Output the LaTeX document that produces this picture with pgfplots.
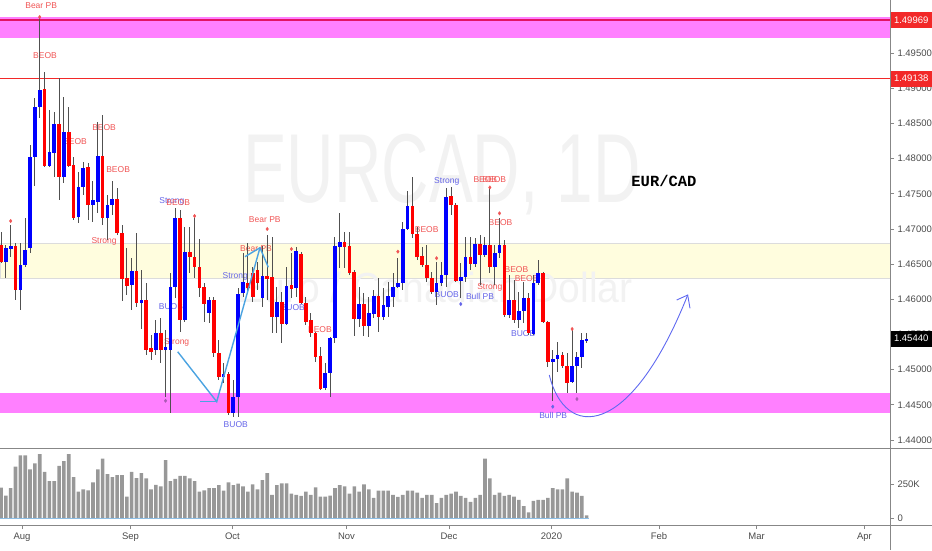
\documentclass[border=0pt]{standalone}
\usepackage{fontspec}
\setmainfont{Liberation Sans}
\newfontfamily\pairfont{Liberation Mono}
\usepackage{pgfplots}
\usepackage{pgfplotstable}
\pgfplotsset{compat=1.18}

\definecolor{bullblue}{RGB}{0,0,255}
\definecolor{bearred}{RGB}{255,0,0}
\definecolor{wickgray}{RGB}{80,80,80}
\definecolor{zonepink}{RGB}{255,128,255}
\definecolor{zoneyellow}{RGB}{255,253,222}
\definecolor{zoneedge}{RGB}{220,220,220}
\definecolor{lvlmagenta}{RGB}{225,20,100}
\definecolor{lvlred}{RGB}{242,40,40}
\definecolor{labred}{RGB}{240,85,85}
\definecolor{labblue}{RGB}{100,100,232}
\definecolor{markpurple}{RGB}{170,90,180}
\definecolor{volgray}{RGB}{152,152,152}
\definecolor{scalegray}{RGB}{135,135,135}
\definecolor{ticktext}{RGB}{75,75,75}
\definecolor{arrowblue}{RGB}{75,163,225}
\definecolor{curveblue}{RGB}{95,105,240}
\definecolor{watermark}{RGB}{242,242,242}
\definecolor{volbase}{RGB}{140,190,230}

\tikzset{lbl/.style={font=\fontsize{8.5}{9}\selectfont, inner sep=0pt},
  pricebox/.style={anchor=west, text=white, inner sep=0pt, minimum width=42pt,
    minimum height=16pt, font=\fontsize{9.5}{11}\selectfont}}
% a candle part is a vertical error bar of given width and colour
\pgfplotsset{
  candlebar/.style 2 args={draw=none, mark=none, forget plot,
    error bars/.cd, y dir=both, y explicit, error mark=none,
    error bar style={line width=#1, draw=#2}},
}

% daily candles, x = bar index
\pgfplotstableread{
k O H L C
2 1.46530 1.46772 1.46303 1.46729
3 1.46715 1.47056 1.46601 1.46758
5 1.46132 1.46800 1.45848 1.46488
6 1.46488 1.47156 1.46459 1.46701
7 1.46729 1.48193 1.46658 1.48023
8 1.48023 1.48861 1.47610 1.48733
9 1.48733 1.50012 1.48577 1.48975
11 1.47895 1.48691 1.47880 1.48094
12 1.48079 1.48662 1.47738 1.48492
14 1.47738 1.48875 1.47653 1.48378
17 1.47170 1.47809 1.47085 1.47596
18 1.47596 1.47952 1.47482 1.47866
20 1.47340 1.47681 1.47099 1.47411
21 1.47383 1.48520 1.47227 1.48037
23 1.47156 1.47482 1.46843 1.47340
24 1.47340 1.47681 1.47198 1.47426
28 1.46203 1.46587 1.45848 1.46402
30 1.45947 1.46417 1.45578 1.45990
33 1.45279 1.45706 1.45208 1.45521
35 1.45279 1.45564 1.44611 1.45322
36 1.45279 1.46374 1.44384 1.46175
37 1.46175 1.47298 1.46018 1.47156
39 1.45706 1.47028 1.45677 1.46672
44 1.45805 1.46033 1.45663 1.45990
47 1.44896 1.45095 1.44810 1.44938
49 1.44384 1.44853 1.44327 1.44611
50 1.44611 1.46161 1.44327 1.46075
51 1.46090 1.46658 1.46033 1.46246
55 1.46018 1.46758 1.45891 1.46331
58 1.45748 1.46175 1.45521 1.45962
60 1.45649 1.46459 1.45635 1.46189
62 1.46161 1.46743 1.46033 1.46687
68 1.44739 1.45095 1.44711 1.44953
69 1.44953 1.45464 1.44611 1.45450
70 1.45450 1.46886 1.45379 1.46758
71 1.46743 1.47227 1.46445 1.46815
75 1.45720 1.46175 1.45606 1.45933
77 1.45621 1.46033 1.45464 1.45805
78 1.45791 1.46132 1.45734 1.46047
80 1.45748 1.46161 1.45706 1.45919
81 1.45891 1.46246 1.45748 1.46047
82 1.46033 1.46374 1.45891 1.46175
83 1.46175 1.46587 1.46161 1.46232
84 1.46232 1.47099 1.46132 1.46999
85 1.46999 1.47539 1.46985 1.47326
91 1.46104 1.46530 1.45919 1.46232
92 1.46232 1.46530 1.46189 1.46345
93 1.46345 1.47582 1.46175 1.47454
96 1.46260 1.46516 1.46018 1.46317
97 1.46317 1.46886 1.46246 1.46601
99 1.46502 1.46871 1.46459 1.46786
101 1.46630 1.46886 1.46601 1.46772
103 1.46459 1.46772 1.46203 1.46658
104 1.46658 1.47156 1.46587 1.46772
106 1.45777 1.46345 1.45734 1.45990
108 1.45706 1.46104 1.45592 1.45834
109 1.45834 1.46246 1.45663 1.46018
111 1.45507 1.46345 1.45493 1.46232
112 1.46232 1.46559 1.46203 1.46374
115 1.45109 1.45279 1.44555 1.45152
116 1.45152 1.45393 1.44967 1.45208
119 1.44824 1.45564 1.44810 1.45052
120 1.45052 1.45251 1.44668 1.45180
121 1.45180 1.45521 1.45024 1.45422
122 1.45407 1.45521 1.45379 1.45440
}\bull

\pgfplotstableread{
k O H L C
1 1.46772 1.46957 1.46516 1.46530
4 1.46758 1.46800 1.45990 1.46132
10 1.48989 1.49231 1.47880 1.47895
13 1.48492 1.49145 1.47411 1.47738
15 1.48378 1.48733 1.47880 1.47895
16 1.47909 1.48023 1.47127 1.47156
19 1.47880 1.47937 1.47127 1.47340
22 1.48037 1.48620 1.47056 1.47156
25 1.47426 1.47582 1.46914 1.46942
26 1.46942 1.47056 1.45976 1.46289
27 1.46303 1.46729 1.46061 1.46189
29 1.46402 1.46942 1.45891 1.45947
31 1.45990 1.46232 1.45208 1.45279
32 1.45308 1.45493 1.45137 1.45251
34 1.45521 1.45734 1.45095 1.45279
38 1.47156 1.47269 1.45535 1.45706
40 1.46672 1.47028 1.46374 1.46601
41 1.46601 1.47198 1.46303 1.46459
42 1.46459 1.46857 1.46033 1.46161
43 1.46175 1.46232 1.45677 1.45933
45 1.45990 1.46033 1.45180 1.45237
46 1.45237 1.45422 1.44853 1.44896
48 1.44938 1.44967 1.44356 1.44384
52 1.46232 1.46800 1.46090 1.46161
53 1.46374 1.46459 1.45962 1.46033
54 1.46417 1.46530 1.46132 1.46232
56 1.46331 1.46914 1.45990 1.46289
57 1.46317 1.46886 1.45521 1.45748
59 1.45962 1.46104 1.45379 1.45649
61 1.46203 1.46658 1.46018 1.46146
63 1.46644 1.46672 1.45933 1.45947
64 1.45947 1.46033 1.45635 1.45677
65 1.45706 1.45805 1.45464 1.45521
66 1.45521 1.45535 1.45109 1.45180
67 1.45194 1.45322 1.44711 1.44725
72 1.46815 1.46957 1.46445 1.46743
73 1.46758 1.46957 1.46345 1.46374
74 1.46388 1.46417 1.45478 1.45720
76 1.45933 1.46090 1.45478 1.45621
79 1.46047 1.46303 1.45535 1.45748
86 1.47326 1.47738 1.46871 1.46928
87 1.46928 1.47028 1.46559 1.46601
88 1.46616 1.46743 1.46459 1.46488
89 1.46488 1.46772 1.46246 1.46303
90 1.46303 1.46388 1.46075 1.46104
94 1.47468 1.47596 1.47198 1.47340
95 1.47340 1.47369 1.46246 1.46260
98 1.46601 1.46886 1.46417 1.46502
100 1.46786 1.46914 1.46203 1.46630
102 1.46772 1.47582 1.46374 1.46459
105 1.46772 1.46843 1.45748 1.45777
107 1.45990 1.46274 1.45663 1.45706
110 1.46018 1.46090 1.45493 1.45521
113 1.46374 1.46388 1.45663 1.45677
114 1.45677 1.45692 1.45038 1.45109
117 1.45208 1.45251 1.45024 1.45052
118 1.45052 1.45237 1.44668 1.44810
}\bear

% daily volume, thousands
\pgfplotstableread{
k v
1 224
2 165
3 219
4 377
5 461
6 461
7 357
8 401
9 469
10 340
11 272
12 272
13 384
14 418
15 469
16 301
17 194
18 211
19 204
20 262
21 357
22 437
23 323
24 301
25 316
26 316
27 158
28 340
29 294
30 330
31 292
32 211
33 243
34 233
35 425
36 272
37 287
38 309
39 309
40 292
41 272
42 194
43 204
44 219
45 219
46 241
47 202
48 262
49 241
50 253
51 233
52 194
53 248
54 211
55 279
56 330
57 170
58 241
59 255
60 255
61 180
62 170
63 163
64 194
65 170
66 226
67 158
68 158
69 165
70 219
71 241
72 233
73 180
74 233
75 194
76 248
77 211
78 148
79 202
80 202
81 202
82 170
83 156
84 170
85 202
86 202
87 187
88 148
89 170
90 170
91 109
92 148
93 170
94 180
95 194
96 163
97 148
98 119
99 148
100 170
101 437
102 292
103 170
104 187
105 163
106 170
107 158
108 134
109 87
110 41
111 126
112 134
113 134
114 148
115 219
116 211
117 211
118 292
119 194
120 187
121 163
122 19
}\volumes

\begin{document}
\begin{tikzpicture}
\useasboundingbox (0pt,0pt) rectangle (932pt,550pt);

% ---------------- price pane ----------------
\begin{axis}[
  at={(0pt,102pt)}, anchor=south west,
  width=890pt, height=448pt, scale only axis,
  xmin=0.793, xmax=184.68, ymin=1.43887, ymax=1.50254,
  axis x line*=bottom, axis y line*=right, xtick=\empty,
  axis line style={draw=none},
  ytick={1.44,1.445,1.45,1.455,1.46,1.465,1.47,1.475,1.48,1.485,1.49,1.495},
  scaled y ticks=false,
  yticklabel style={/pgf/number format/fixed, /pgf/number format/fixed zerofill,
    /pgf/number format/precision=5},
  /pgf/number format/assume math mode=true,
  tick align=outside, major tick length=4pt,
  tick style={draw=scalegray, line width=0.8pt},
  tick label style={font=\fontsize{9.5}{11}\selectfont, text=ticktext},
  clip=false,
]
% zones
\fill[zonepink] (axis cs:0.793,1.49710) rectangle (axis cs:184.68,1.50017);
\fill[zonepink] (axis cs:0.793,1.44384) rectangle (axis cs:184.68,1.44668);
\filldraw[fill=zoneyellow, draw=zoneedge, line width=0.8pt]
  (axis cs:0.793,1.46303) rectangle (axis cs:184.68,1.46800);
\node[text=watermark, inner sep=0pt] at (axis cs:92.1,1.47767)
  {\scalebox{0.67}[1]{\fontsize{98}{100}\selectfont EURCAD, 1D}};
\node[text=watermark, inner sep=0pt] at (axis cs:90.7,1.46175)
  {\scalebox{0.93}[1]{\fontsize{42}{44}\selectfont Euro / Canadian Dollar}};

% key levels
\addplot[lvlmagenta, line width=1.2pt, forget plot] coordinates {(0.793,1.49969) (184.68,1.49969)};
\addplot[lvlred, line width=1.3pt, forget plot] coordinates {(0.793,1.49138) (184.68,1.49138)};

% order-block tags
\node[lbl,text=labred] at (axis cs:9.3,1.50169) {Bear PB};
\node[lbl,text=labred] at (axis cs:10.1,1.49458) {BEOB};
\node[lbl,text=labred] at (axis cs:22.3,1.48436) {BEOB};
\node[lbl,text=labred] at (axis cs:16.3,1.48240) {BEOB};
\node[lbl,text=labred] at (axis cs:25.2,1.47838) {BEOB};
\node[lbl,text=labred] at (axis cs:22.3,1.46829) {Strong};
\node[lbl,text=labblue] at (axis cs:36.3,1.47387) {Strong};
\node[lbl,text=labred] at (axis cs:37.6,1.47379) {BEOB};
\node[lbl,text=labblue] at (axis cs:36.1,1.45895) {BUOB};
\node[lbl,text=labred] at (axis cs:37.3,1.45383) {Strong};
\node[lbl,text=labblue] at (axis cs:49.5,1.44214) {BUOB};
\node[lbl,text=labblue] at (axis cs:49.4,1.46321) {Strong};
\node[lbl,text=labred] at (axis cs:55.5,1.47137) {Bear PB};
\node[lbl,text=labred] at (axis cs:53.7,1.46725) {Bear PB};
\node[lbl,text=labblue] at (axis cs:61.3,1.45876) {BUOB};
\node[lbl,text=labred] at (axis cs:66.9,1.45564) {BEOB};
\node[lbl,text=labred] at (axis cs:88.95,1.46995) {BEOB};
\node[lbl,text=labblue] at (axis cs:93.1,1.46061) {BUOB};
\node[lbl,text=labblue] at (axis cs:93.1,1.47682) {Strong};
\node[lbl,text=labblue] at (axis cs:99.97,1.46037) {Bull PB};
\node[lbl,text=labred] at (axis cs:101.07,1.47706) {BEOB};
\node[lbl,text=labred] at (axis cs:102.93,1.47706) {BEOB};
\node[lbl,text=labred] at (axis cs:104.2,1.47089) {BEOB};
\node[lbl,text=labred] at (axis cs:102.0,1.46165) {Strong};
\node[lbl,text=labred] at (axis cs:107.5,1.46417) {BEOB};
\node[lbl,text=labred] at (axis cs:109.6,1.46289) {BEOB};
\node[lbl,text=labblue] at (axis cs:108.9,1.45517) {BUOB};
\node[lbl,text=labblue] at (axis cs:115.1,1.44356) {Bull PB};

% wicks
\addplot[candlebar={1pt}{wickgray}]
  table[x=k, y expr={0.5*(\thisrow{H}+\thisrow{L})}, y error expr={0.5*(\thisrow{H}-\thisrow{L})}] {\bull};
\addplot[candlebar={1pt}{wickgray}]
  table[x=k, y expr={0.5*(\thisrow{H}+\thisrow{L})}, y error expr={0.5*(\thisrow{H}-\thisrow{L})}] {\bear};
% bodies
\addplot[candlebar={3.7pt}{bullblue}]
  table[x=k, y expr={0.5*(\thisrow{O}+\thisrow{C})}, y error expr={max(0.5*abs(\thisrow{C}-\thisrow{O}),0.00008)}] {\bull};
\addplot[candlebar={3.7pt}{bearred}]
  table[x=k, y expr={0.5*(\thisrow{O}+\thisrow{C})}, y error expr={max(0.5*abs(\thisrow{C}-\thisrow{O}),0.00008)}] {\bear};

% pivot markers
\addplot[only marks, mark=diamond*, mark size=1.7pt, color=labred, forget plot]
  coordinates {(3,1.47113) (9,1.50012) (41,1.47184) (56,1.46999) (61,1.46715) (83,1.46677) (91,1.46584) (102,1.47590) (104,1.47222) (119,1.45578)};
\addplot[only marks, mark=diamond*, mark size=1.7pt, color=labblue, forget plot]
  coordinates {(96,1.45933) (115,1.44474)};
\addplot[only marks, mark=diamond*, mark size=1.7pt, color=markpurple, forget plot]
  coordinates {(35,1.44559) (120,1.44583)};

% swing sketch
\addplot[arrowblue, line width=1.4pt, forget plot]
  coordinates {(37.51,1.45255) (45.57,1.44545) (54.51,1.46733)};
\addplot[arrowblue, line width=1.4pt, forget plot]
  coordinates {(42.12,1.44545) (45.57,1.44545)};
\addplot[arrowblue, line width=1.4pt, forget plot]
  coordinates {(51.41,1.46606) (54.51,1.46733) (56.23,1.46455)};

\draw[curveblue, line width=0.9pt] (axis cs:114.29,1.44924)
   .. controls (axis cs:117.53,1.44) and (axis cs:130.96,1.44) .. (axis cs:142.88,1.46061);
\draw[curveblue, line width=0.9pt] (axis cs:140.6,1.45990) -- (axis cs:142.88,1.46061) -- (axis cs:143.36,1.45872);
\node[inner sep=0pt] at (axis cs:137.98,1.47681) {\pairfont\bfseries\fontsize{15.5}{16}\selectfont EUR/CAD};

% price scale tags
\node[pricebox, fill=lvlred] at (axis cs:184.68,1.49969) {1.49969};
\node[pricebox, fill=lvlred] at (axis cs:184.68,1.49138) {1.49138};
\node[pricebox, fill=black] at (axis cs:184.68,1.45440) {1.45440};
\end{axis}

% ---------------- volume pane ----------------
\begin{axis}[
  at={(0pt,25pt)}, anchor=south west,
  width=890pt, height=77pt, scale only axis,
  xmin=0.793, xmax=184.68, ymin=-51.5, ymax=514.7,
  axis x line*=bottom, axis y line*=right,
  axis line style={draw=none},
  xtick={5.34,27.76,48.83,72.39,93.56,114.74,136.95,157.1,179.4},
  xticklabels={Aug,Sep,Oct,Nov,Dec,2020,Feb,Mar,Apr},
  ytick={0,250}, yticklabels={0,250K},
  tick align=outside, major tick length=4pt,
  tick style={draw=scalegray, line width=0.8pt},
  tick label style={font=\fontsize{9.5}{11}\selectfont, text=ticktext},
  clip=false,
]
\addplot[ybar, bar width=3.6pt, fill=volgray, draw=none, forget plot] table[x=k, y=v] {\volumes};
\addplot[volbase, line width=0.8pt, forget plot] coordinates {(0.793,0) (122.5,0)};
\end{axis}

% pane borders
\draw[scalegray, line width=1pt] (0pt,102pt) -- (932pt,102pt);
\draw[scalegray, line width=1pt] (0pt,25pt) -- (932pt,25pt);
\draw[scalegray, line width=1pt] (890pt,0pt) -- (890pt,550pt);
\end{tikzpicture}
\end{document}
